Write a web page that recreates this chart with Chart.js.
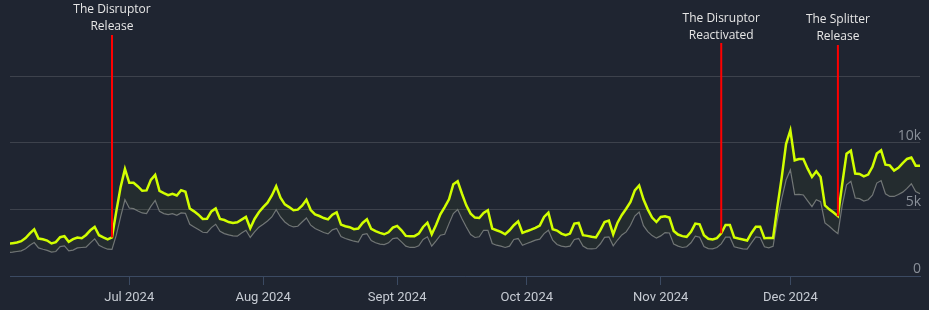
<!DOCTYPE html>
<html>
<head>
<meta charset="utf-8">
<script src="https://cdn.jsdelivr.net/npm/chart.js@4.4.1/dist/chart.umd.min.js"></script>
<style>
  html, body { margin: 0; padding: 0; background: #1f2531; }
  #wrap { width: 929px; height: 310px; }
</style>
</head>
<body>
<div id="wrap"><canvas id="chart" width="929" height="310"></canvas></div>
<script>
// ---------------------------------------------------------
// DATA (daily, day 0 = 3 Jun 2024, values in thousands)
// ---------------------------------------------------------
const brightSeries = [
  2.41, 2.46, 2.51, 2.61, 2.84, 3.2, 3.5, 2.81, 2.76, 2.66,
  2.44, 2.54, 2.91, 2.99, 2.56, 2.76, 2.89, 2.84, 3.08, 3.43,
  3.68, 3.06, 2.89, 2.74, 2.89, 4.85, 6.67, 8.03, 6.99, 6.99,
  6.72, 6.39, 6.42, 7.21, 7.59, 6.39, 6.22, 6.07, 6.17, 6.04,
  6.44, 6.32, 5.07, 4.85, 4.6, 4.28, 4.3, 4.85, 5.07, 4.28,
  4.2, 4.05, 3.98, 4.03, 4.23, 4.43, 3.58, 4.28, 4.78, 5.17,
  5.5, 6.04, 6.74, 5.87, 5.37, 5.17, 4.93, 4.98, 5.27, 5.72,
  4.95, 4.62, 4.5, 4.35, 4.25, 4.6, 4.78, 3.86, 3.73, 3.66,
  3.51, 3.56, 3.98, 4.25, 3.53, 3.36, 3.23, 3.13, 3.28, 3.63,
  3.76, 3.43, 3.01, 2.99, 2.99, 3.18, 3.68, 4.0, 3.13, 3.83,
  4.63, 5.17, 5.75, 6.89, 7.11, 6.17, 5.3, 4.68, 4.38, 4.35,
  4.73, 4.93, 3.56, 3.43, 3.31, 3.13, 3.43, 3.81, 4.1, 3.23,
  3.36, 3.48, 3.61, 3.78, 4.43, 4.75, 3.51, 3.41, 3.18, 3.06,
  3.18, 3.93, 3.98, 3.06, 3.01, 2.94, 2.89, 3.43, 4.05, 4.15,
  3.12, 4.0, 4.58, 5.05, 5.55, 6.42, 6.79, 5.75, 5.0, 4.38,
  4.05, 4.43, 4.48, 4.38, 3.38, 3.11, 2.99, 2.94, 3.31, 3.93,
  3.88, 3.06, 2.79, 2.74, 2.84, 3.2, 3.83, 3.83, 2.89, 2.81,
  2.74, 2.66, 3.23, 3.7, 3.7, 2.84, 2.86, 2.86, 5.2, 7.4,
  9.9, 10.92, 8.68, 8.78, 8.78, 8.05, 7.43, 7.86, 7.43, 5.3,
  5.0, 4.76, 4.49, 6.9, 9.18, 9.4, 7.69, 7.66, 7.48, 7.61,
  8.19, 9.19, 9.43, 8.35, 8.3, 7.91, 8.12, 8.47, 8.78, 8.89,
  8.28, 8.28
];

const graySeries = [
  1.77, 1.79, 1.84, 1.89, 2.04, 2.31, 2.51, 2.11, 2.01, 1.92,
  1.79, 1.84, 2.21, 2.26, 1.89, 1.94, 2.11, 2.14, 2.16, 2.49,
  2.79, 2.31, 2.14, 2.01, 1.99, 3.06, 4.43, 5.72, 5.1, 5.05,
  4.88, 4.73, 4.68, 5.22, 5.67, 4.85, 4.68, 4.6, 4.68, 4.55,
  4.73, 4.7, 3.88, 3.68, 3.48, 3.28, 3.26, 3.63, 3.88, 3.36,
  3.18, 3.08, 3.01, 2.99, 3.23, 3.43, 2.89, 3.31, 3.66, 3.88,
  4.13, 4.43, 4.98, 4.43, 4.05, 3.81, 3.68, 3.73, 4.05, 4.35,
  3.81, 3.56, 3.41, 3.26, 3.16, 3.46, 3.56, 2.96, 2.81, 2.71,
  2.61, 2.54, 3.11, 3.18, 2.66, 2.49, 2.39, 2.36, 2.49, 2.81,
  2.86, 2.56, 2.24, 2.14, 2.14, 2.26, 2.74, 2.94, 2.24, 2.64,
  3.06, 3.13, 3.93, 4.68, 4.98, 4.3, 3.68, 3.11, 2.89, 2.94,
  3.43, 3.43, 2.44, 2.31, 2.24, 2.14, 2.24, 2.74, 2.81, 2.31,
  2.44, 2.56, 2.69, 2.76, 3.18, 3.43, 2.69, 2.36, 2.24, 2.19,
  2.24, 2.74, 2.81, 2.24, 2.06, 2.04, 2.06, 2.4, 2.9, 2.94,
  2.26, 2.7, 3.08, 3.31, 3.81, 4.5, 4.8, 3.78, 3.33, 3.03,
  2.84, 3.01, 3.26, 3.23, 2.39, 2.24, 2.14, 2.19, 2.49, 2.99,
  2.91, 2.21, 2.06, 2.04, 2.14, 2.41, 2.91, 2.91, 2.19, 2.11,
  2.04, 2.01, 2.49, 2.94, 2.89, 2.19, 2.11, 2.22, 4.2, 5.8,
  7.2, 7.96, 6.1, 6.12, 6.08, 5.63, 5.2, 5.72, 5.57, 3.98,
  3.73, 3.43, 3.18, 5.3, 6.84, 7.11, 5.85, 5.8, 5.62, 5.72,
  6.07, 6.97, 7.16, 6.17, 5.97, 5.97, 6.12, 6.29, 6.57, 6.92,
  6.34, 6.17
];

// month starts as day offsets from 3 Jun 2024
const monthTicks = [28, 59, 90, 120, 151, 181];
const monthLabels = ["Jul 2024", "Aug 2024", "Sept 2024", "Oct 2024", "Nov 2024", "Dec 2024"];

const yTicks = [0, 5, 10, 15];
const yTickLabels = ["0", "5k", "10k", ""];

// events (day offsets)
const eventDays = [24, 165, 192];
const eventNames = [
  ["The Disruptor", "Release"],
  ["The Disruptor", "Reactivated"],
  ["The Splitter", "Release"]
];

// ---------------------------------------------------------
// EVENT MARKERS (red lines + captions)
// ---------------------------------------------------------
const eventMarkers = {
  id: "eventMarkers",
  afterDatasetsDraw(chart, args, opts) {
    const { ctx, scales: { x, y } } = chart;
    ctx.save();
    eventDays.forEach((day, i) => {
      const px = x.getPixelForValue(day);
      const py = y.getPixelForValue(brightSeries[day]);
      ctx.strokeStyle = "#ff0000";
      ctx.lineWidth = 2;
      ctx.beginPath();
      ctx.moveTo(px, opts.lineTop[i]);
      ctx.lineTo(px, py);
      ctx.stroke();

      ctx.fillStyle = "#e6e6e6";
      ctx.font = "12px 'Open Sans'";
      ctx.textAlign = "center";
      ctx.textBaseline = "middle";
      eventNames[i].forEach((t, k) => {
        ctx.fillText(t, px, opts.textTop[i] + k * 17);
      });
    });
    ctx.restore();
  }
};

// ---------------------------------------------------------
// CHART
// ---------------------------------------------------------
new Chart(document.getElementById("chart"), {
  type: "line",
  data: {
    datasets: [
      {
        data: brightSeries.map((v, i) => ({ x: i, y: v })),
        borderColor: "#d2ff00",
        borderWidth: 2.5,
        pointRadius: 0,
        tension: 0,
        fill: "+1",
        backgroundColor: "rgba(210,255,0,0.035)"
      },
      {
        data: graySeries.map((v, i) => ({ x: i, y: v })),
        borderColor: "#707478",
        borderWidth: 1.2,
        pointRadius: 0,
        tension: 0,
        fill: false
      }
    ]
  },
  options: {
    responsive: false,
    animation: false,
    devicePixelRatio: 1,
    layout: { padding: { left: 10, right: 7, top: 8, bottom: 4 } },
    plugins: {
      legend: { display: false },
      tooltip: { enabled: false },
      eventMarkers: {
        lineTop: [35, 43, 45],
        textTop: [10, 19, 20]
      }
    },
    scales: {
      x: {
        type: "linear",
        min: 0.4,
        max: 211,
        afterBuildTicks: scale => {
          scale.ticks = monthTicks.map(v => ({ value: v }));
        },
        afterFit: scale => {
          scale.height = 30;
        },
        grid: {
          drawOnChartArea: false,
          drawTicks: true,
          tickLength: 9,
          tickColor: "#3b4a62"
        },
        border: { display: true, color: "#3b4a62", width: 1 },
        ticks: {
          autoSkip: false,
          maxRotation: 0,
          padding: 5,
          color: "#c6cbd3",
          font: { family: "Roboto", size: 13 },
          callback: (v, i) => monthLabels[i]
        }
      },
      y: {
        position: "right",
        min: 0,
        max: 20,
        afterBuildTicks: scale => {
          scale.ticks = yTicks.map(v => ({ value: v }));
        },
        grid: {
          color: "#3d424c",
          drawTicks: false
        },
        border: { display: false },
        ticks: {
          mirror: true,
          padding: 1,
          labelOffset: -7,
          color: "#8a9099",
          font: { family: "Open Sans", size: 14 },
          callback: (v, i) => yTickLabels[i]
        }
      }
    }
  },
  plugins: [eventMarkers]
});
</script>
</body>
</html>
